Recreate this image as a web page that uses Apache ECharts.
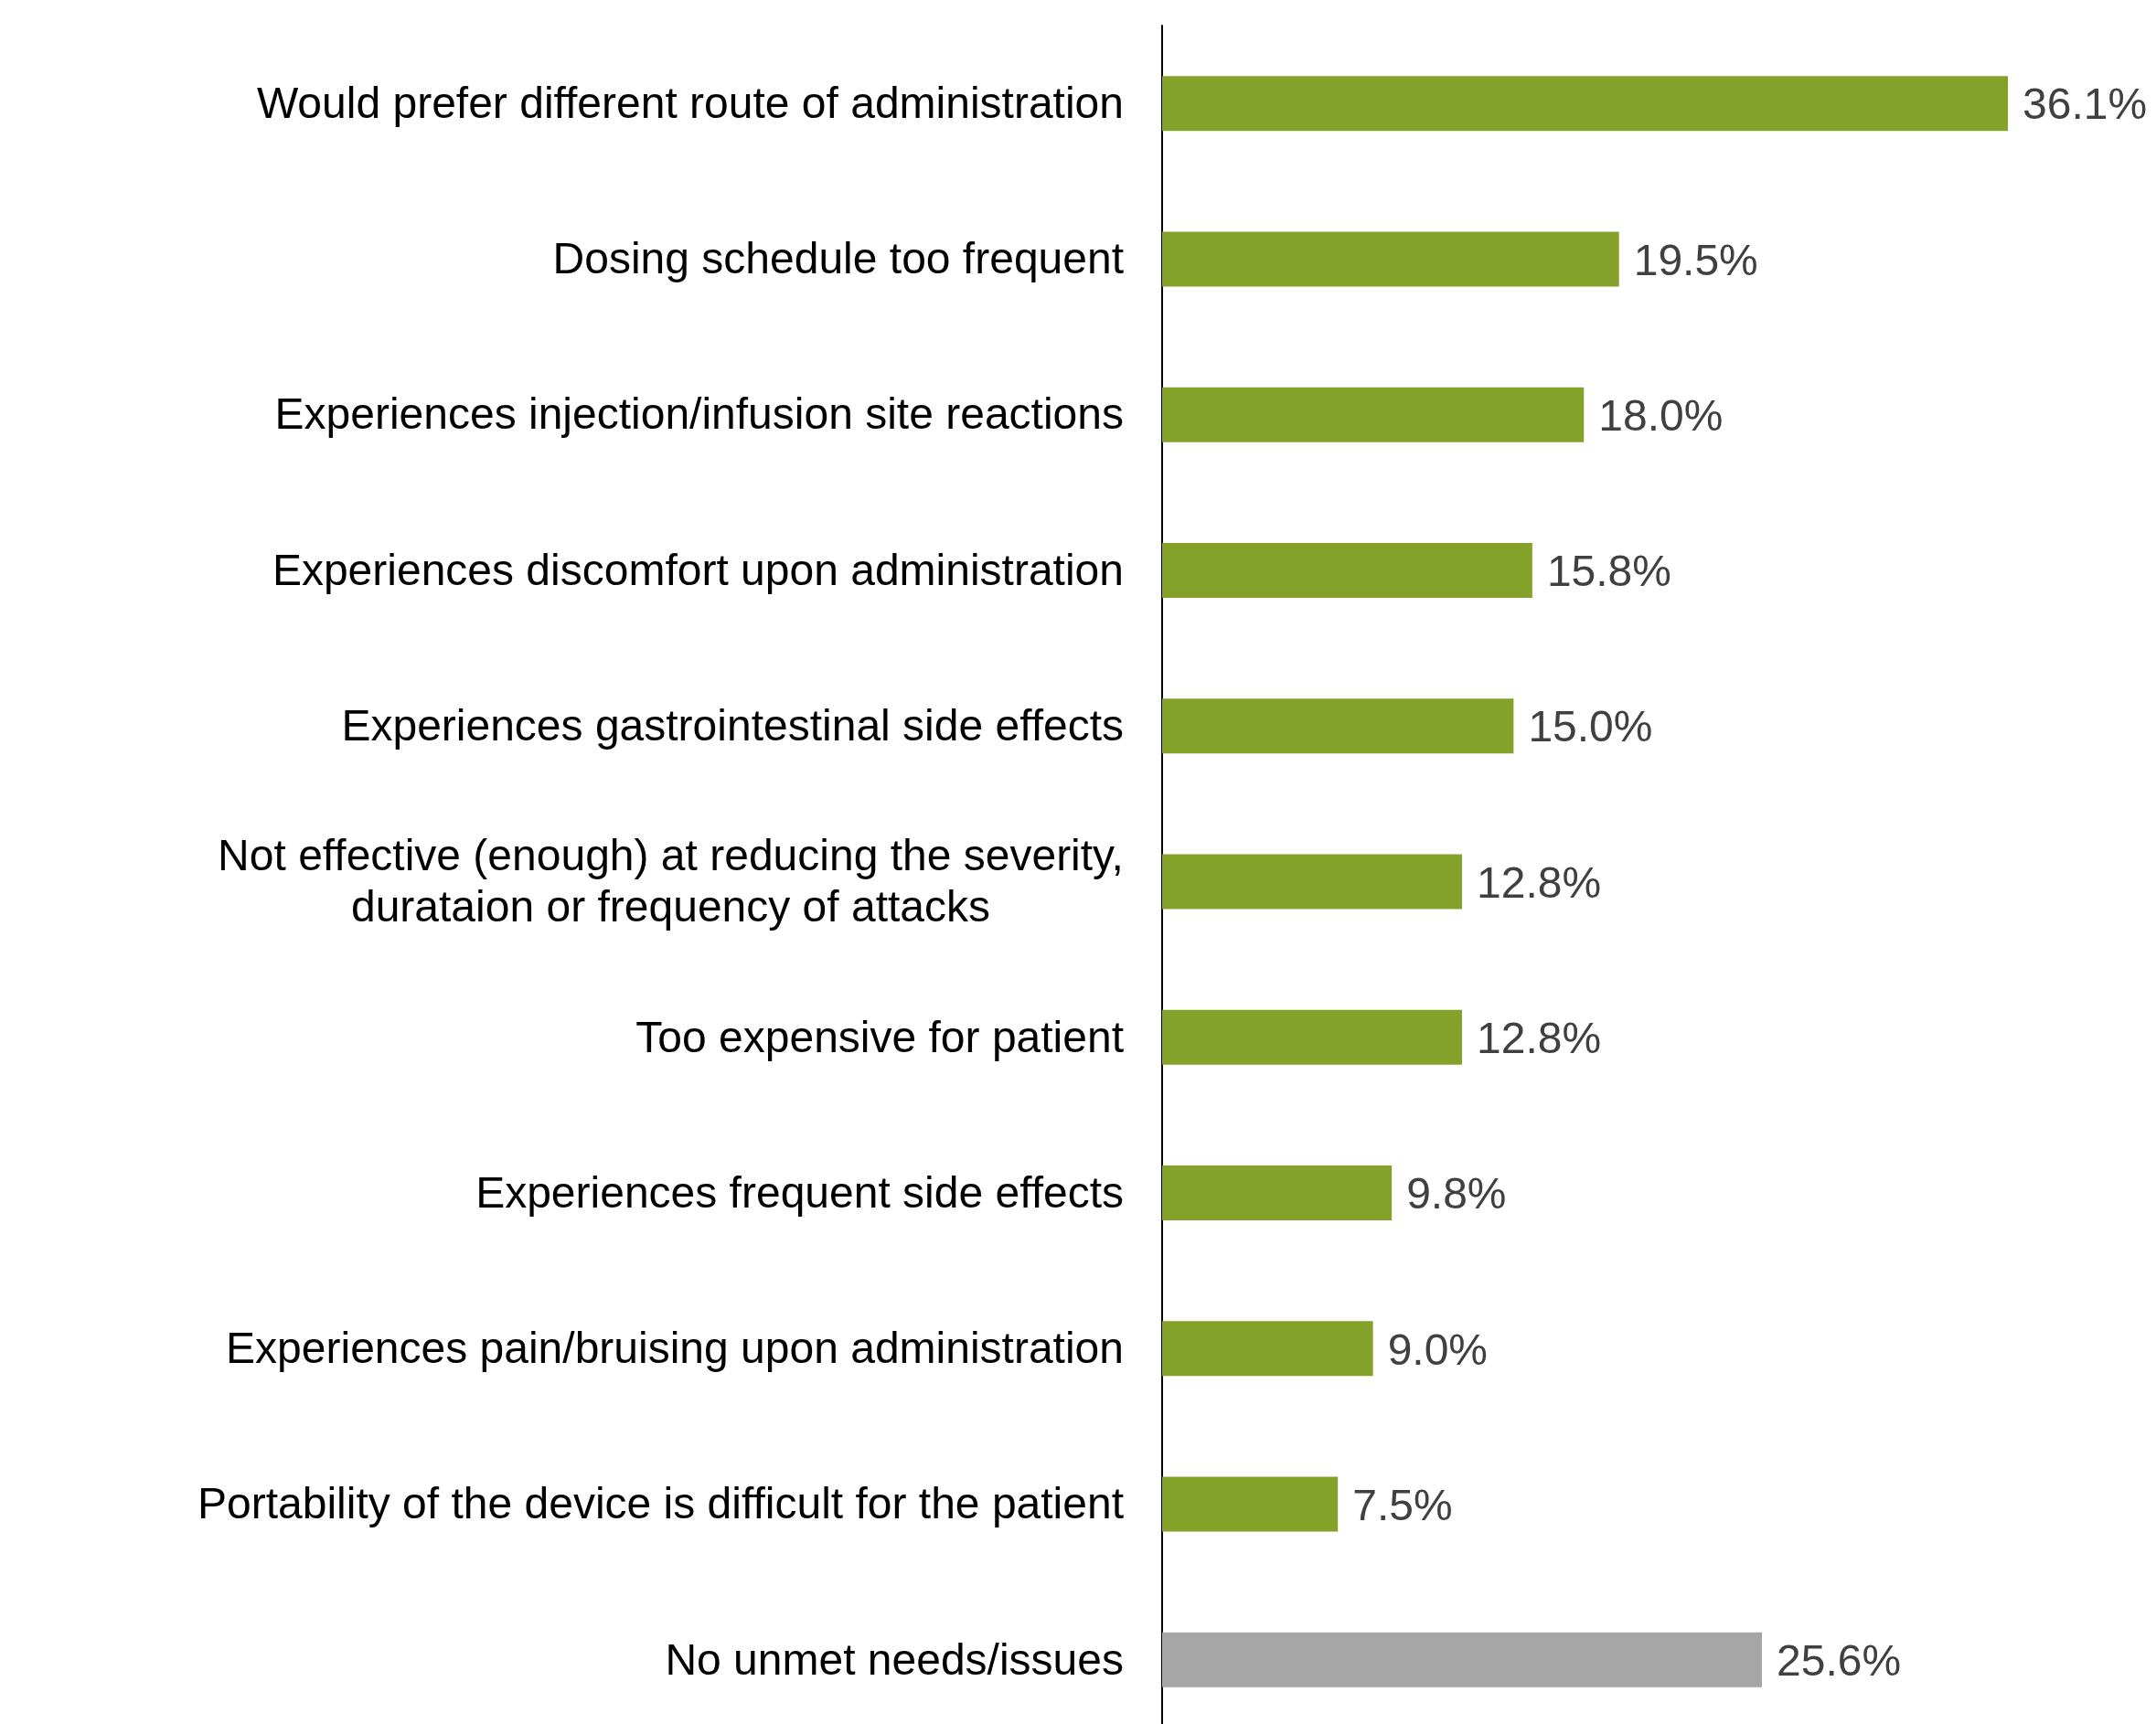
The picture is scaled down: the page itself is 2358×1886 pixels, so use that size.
<!DOCTYPE html>
<html><head><meta charset="utf-8">
<script src="https://cdn.jsdelivr.net/npm/echarts@6/dist/echarts.min.js"></script>
<style>html,body{margin:0;padding:0;background:#fff;overflow:hidden}#c{width:2358px;height:1886px}</style>
</head><body><div id="c"></div>
<script>
const categories = [
  "Would prefer different route of administration",
  "Dosing schedule too frequent",
  "Experiences injection/infusion site reactions",
  "Experiences discomfort upon administration",
  "Experiences gastrointestinal side effects",
  "Not effective (enough) at reducing the severity,\ndurataion or frequency of attacks",
  "Too expensive for patient",
  "Experiences frequent side effects",
  "Experiences pain/bruising upon administration",
  "Portability of the device is difficult for the patient",
  "No unmet needs/issues"
];
const values = [36.1, 19.5, 18.0, 15.8, 15.0, 12.8, 12.8, 9.8, 9.0, 7.5, 25.6];
const barColors = ["#84A12A","#84A12A","#84A12A","#84A12A","#84A12A","#84A12A","#84A12A","#84A12A","#84A12A","#84A12A","#A6A6A6"];

const FONT = "Liberation Sans, Arial, sans-serif";
const FS = 48;
const cv = document.createElement('canvas').getContext('2d');
cv.font = FS + "px 'Liberation Sans'";
const firstLineW = Math.ceil(cv.measureText("Not effective (enough) at reducing the severity,").width);

const chart = echarts.init(document.getElementById('c'), null, {renderer:'canvas'});
chart.setOption({
  animation: false,
  backgroundColor: '#fff',
  grid: {left: 1271, top: 28, width: 1025, height: 1873, containLabel: false, outerBoundsMode: 'none'},
  xAxis: {type: 'value', min: 0, max: 40, show: false},
  yAxis: {
    type: 'category', data: categories, inverse: true,
    axisLine: {show: true, lineStyle: {color: '#000', width: 2}},
    axisTick: {show: false},
    axisLabel: {
      margin: 42, color: '#000', fontSize: FS, fontFamily: FONT, lineHeight: 56,
      padding: [5, 0, 0, 0],
      formatter: function (v) {
        if (v.indexOf('\n') >= 0) {
          return v.split('\n').map(s => '{c|' + s + '}').join('\n');
        }
        return v;
      },
      rich: {c: {width: firstLineW, align: 'center', fontSize: FS, fontFamily: FONT, color: '#000', lineHeight: 56}}
    }
  },
  series: [{
    type: 'bar', barWidth: 60,
    data: values.map((v, i) => ({value: v, itemStyle: {color: barColors[i]}})),
    label: {show: true, position: 'right', distance: 16, offset: [0, 4], color: '#404040', fontSize: FS, fontFamily: FONT,
      formatter: p => p.value.toFixed(1) + '%'}
  }]
});
</script></body></html>
